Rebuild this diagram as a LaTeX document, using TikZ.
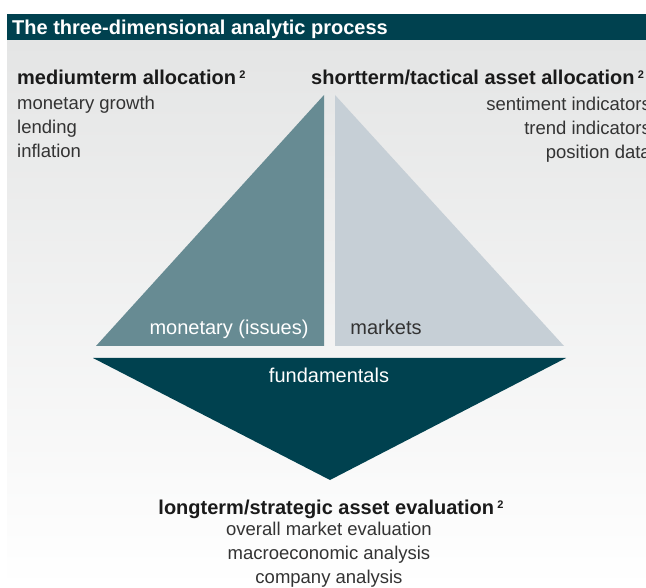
\documentclass[tikz,border=0pt]{standalone}
\usepackage{fontspec}
\setmainfont{Liberation Sans}
\definecolor{darkteal}{HTML}{00414F}
\definecolor{midteal}{HTML}{678B93}
\definecolor{lightblue}{HTML}{C6CFD6}
\definecolor{bggray}{HTML}{E4E5E5}
\definecolor{bodytext}{HTML}{333333}
\definecolor{headtext}{HTML}{1A1A1A}
\newcommand{\supmark}{\,{\fontsize{11}{11}\selectfont\raisebox{6pt}{2}}}
\tikzset{
  headstyle/.style={inner sep=0pt, font=\fontsize{20}{20}\selectfont\bfseries, text=headtext},
  bodystyle/.style={inner sep=0pt, font=\fontsize{18.5}{18.5}\selectfont, text=bodytext},
  labelstyle/.style={inner sep=0pt, font=\fontsize{20}{20}\selectfont},
}
\begin{document}
\begin{tikzpicture}[x=1pt,y=-1pt]
\useasboundingbox (0,0) rectangle (646,588);
\fill[white] (0,0) rectangle (646,588);
\shade[top color=bggray, bottom color=white] (7,40) rectangle (646,588);
% title bar
\fill[darkteal] (7,14) rectangle (646,40);
\node[anchor=base west, inner sep=0pt, text=white, font=\fontsize{20}{20}\selectfont\bfseries] (title) at (12,35) {The three-dimensional analytic process};
% triangles
\fill[midteal] (324,95) -- (324,346) -- (96,346) -- cycle;
\fill[lightblue] (335,95) -- (335,346) -- (564,346) -- cycle;
\fill[darkteal] (93,358) -- (566,358) -- (330,480) -- cycle;
\node[labelstyle, text=white, anchor=base] (monetary) at (229,335) {monetary (issues)};
\node[labelstyle, text=bodytext, anchor=base] (markets) at (386,335) {markets};
\node[labelstyle, text=white, anchor=base] (fund) at (329,383) {fundamentals};
% left texts
\node[headstyle, anchor=base west] (medhead) at (17,85) {mediumterm allocation\supmark};
\node[bodystyle, anchor=base west] (l1) at (17,110) {monetary growth};
\node[bodystyle, anchor=base west] (l2) at (17,134) {lending};
\node[bodystyle, anchor=base west] (l3) at (17,158) {inflation};
% right texts
\node[headstyle, anchor=base west] (shorthead) at (311,85) {shortterm/tactical asset allocation\supmark};
\node[bodystyle, anchor=base east] (r1) at (651,111) {sentiment indicators};
\node[bodystyle, anchor=base east] (r2) at (651,135) {trend indicators};
\node[bodystyle, anchor=base east] (r3) at (651,159) {position data};
% bottom texts
\node[headstyle, anchor=base] (longhead) at (331,514) {longterm/strategic asset evaluation\supmark};
\node[bodystyle, anchor=base] (b1) at (329,535) {overall market evaluation};
\node[bodystyle, anchor=base] (b2) at (329,559) {macroeconomic analysis};
\node[bodystyle, anchor=base] (b3) at (329,583) {company analysis};
\end{tikzpicture}
\end{document}
